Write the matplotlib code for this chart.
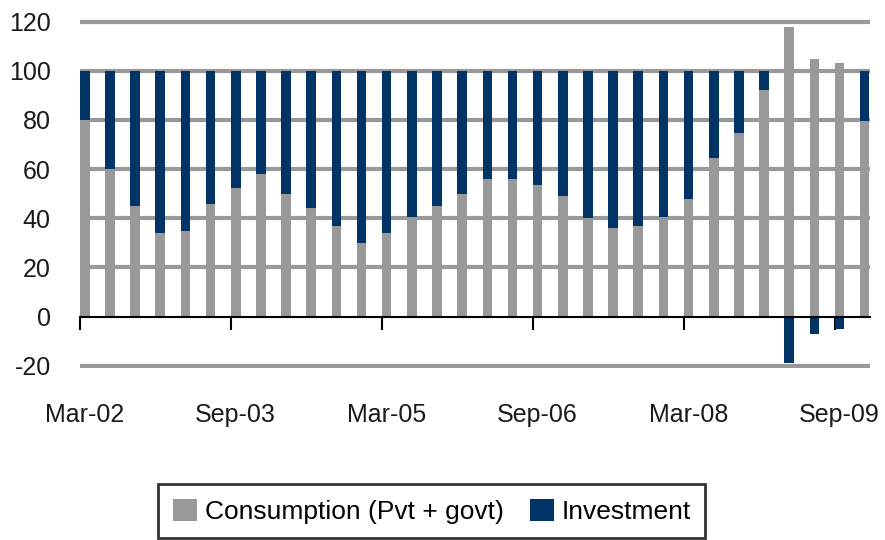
import numpy as np
import matplotlib.pyplot as plt

plt.rcParams['font.family'] = ['Liberation Sans', 'DejaVu Sans']
plt.rcParams['axes.unicode_minus'] = False

# quarterly shares, Mar-02 .. Dec-09
consumption = [80, 60, 45, 34, 35, 46, 52.5, 58, 50, 44, 37, 30, 34, 40.5, 45, 50,
               56, 56, 53.5, 49, 40, 36, 37, 40.5, 48, 64.5, 74.5, 92, 118, 105, 103, 79.5]
investment = [20, 40, 55, 66, 65, 54, 47.5, 42, 50, 56, 63, 70, 66, 59.5, 55, 50,
              44, 44, 46.5, 51, 60, 64, 63, 59.5, 52, 35.5, 25.5, 8, -19, -7, -5, 20.5]
tick_labels = ['Mar-02', 'Sep-03', 'Mar-05', 'Sep-06', 'Mar-08', 'Sep-09']

grey = '#999999'
navy = '#003366'

fig = plt.figure(figsize=(8.85, 5.4), dpi=100)
ax = fig.add_axes([0.0904, 0.3182, 0.8926, 0.6485])

x = np.arange(len(consumption))
cons = np.array(consumption)
inv = np.array(investment)
inv_bottom = np.where(inv > 0, cons, 0)

ax.bar(x, cons, width=0.38, align='edge', color=grey, zorder=2,
       label='Consumption (Pvt + govt)')
ax.bar(x, inv, width=0.38, bottom=inv_bottom, align='edge', color=navy, zorder=2,
       label='Investment')

ax.set_xlim(0, 31.4)
ax.set_ylim(-21, 121.5)
ax.set_yticks(range(-20, 121, 20))
ax.yaxis.grid(True, color=grey, lw=3, zorder=0)
ax.set_axisbelow(True)
ax.yaxis.get_gridlines()[1].set_visible(False)  # zero line is the axis

for s in ['top', 'left', 'right']:
    ax.spines[s].set_visible(False)
ax.spines['bottom'].set_position(('data', 0))
ax.spines['bottom'].set_linewidth(1.5)
ax.spines['bottom'].set_zorder(3)

ax.tick_params(axis='y', length=0, pad=21, labelsize=18, colors='#1a1a1a')

ax.set_xticks(x[::6])
ax.set_xticks(x[::6] + 0.19, minor=True)
ax.set_xticklabels(tick_labels, minor=True)
ax.tick_params(axis='x', which='major', length=9, width=1.5, direction='out',
               labelbottom=False)
ax.tick_params(axis='x', which='minor', length=0, pad=62, labelsize=18,
               labelcolor='#1a1a1a')

leg = fig.legend(loc='center', bbox_to_anchor=(0.488, 0.053), ncol=2,
                 frameon=True, fancybox=False, edgecolor='black', fontsize=19,
                 handlelength=0.9, handleheight=0.9, columnspacing=1.0,
                 handletextpad=0.3, borderpad=0.55, borderaxespad=0)
leg.get_frame().set_linewidth(2)

plt.savefig('out.png', dpi=100)
